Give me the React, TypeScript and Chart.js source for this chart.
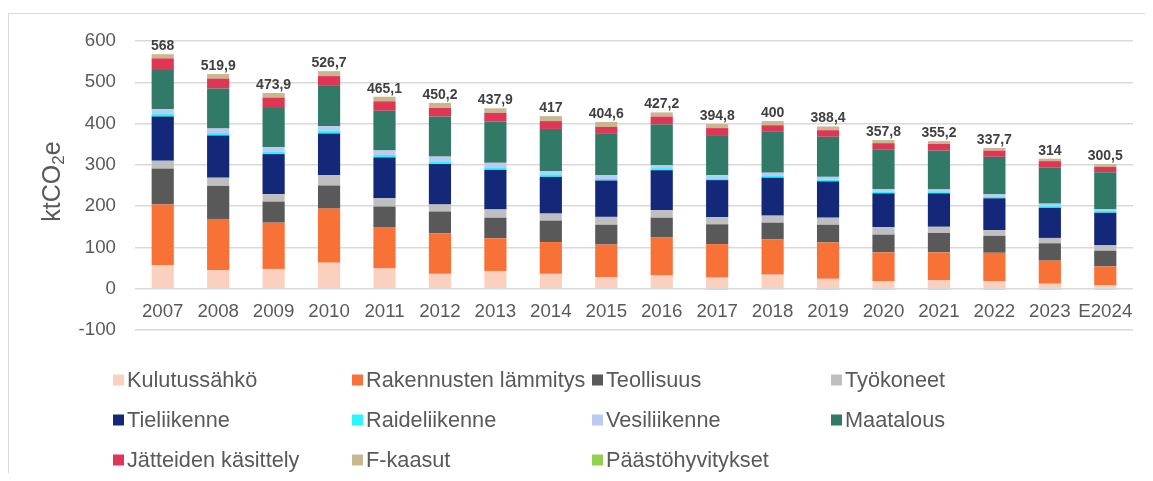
import React, { useEffect, useRef } from "react";
import { Chart, registerables } from "chart.js";

Chart.register(...registerables);

const years = ["2007","2008","2009","2010","2011","2012","2013","2014","2015","2016","2017","2018","2019","2020","2021","2022","2023","E2024"];

const kulutussahko = [57, 45, 48, 63, 49, 36, 43, 36, 28, 32, 27, 34, 24, 18, 21, 18, 12, 9];
const rakennustenLammitys = [147, 124, 112, 131, 99, 98, 79, 77, 79, 93, 81, 86, 88, 70, 67, 69, 56, 45];
const teollisuus = [87, 80, 51, 56, 51, 53, 50, 52, 48, 47, 48, 40, 43, 43, 47, 41, 42, 38];
const tyokoneet = [19, 20, 18, 25, 20, 17, 20, 17, 19, 18, 17, 17, 17, 18, 15, 14, 13, 13];
const tieliikenne = [107, 102, 97, 101, 99, 98, 96, 89, 88, 97, 90, 92, 88, 82, 81, 77, 73, 79];
const raideliikenne = [7, 6, 6, 7, 6, 5, 6, 6, 4, 5, 4, 4, 4, 4, 3, 4, 4, 5];
const vesiliikenne = [11, 11, 11, 11, 11, 13, 11, 8, 9, 7, 8, 8, 7, 6.5, 6.5, 5.5, 6, 3];
const maatalous = [97, 97, 97, 99, 96, 97, 100, 102, 100, 99, 97, 99, 97, 95, 94, 91, 88, 90];
const jatteidenKasittely = [26, 24, 23, 22, 23, 21, 21, 19, 17, 19, 17, 16, 16, 16, 16, 15, 15, 13];
const fKaasut = [10, 11, 11, 12, 11, 12, 11, 12, 12, 10, 10, 10, 9, 7.5, 7, 6.5, 6, 6.5];
const paastohyvitykset = [0, 0, 0, 0, 0, 0, 0, 0, 0, 0, -1, -2, -1, -1, -1, -1, -1, -1];

const totals = [568, 519.9, 473.9, 526.7, 465.1, 450.2, 437.9, 417, 404.6, 427.2, 394.8, 400, 388.4, 357.8, 355.2, 337.7, 314, 300.5];

const yTicks = [-100, 0, 100, 200, 300, 400, 500, 600];

const FONT = "'Liberation Sans', Arial, sans-serif";
const TEXT = "#595959";

const series = [
  { label: "Kulutussähkö", data: kulutussahko, color: "#FCD0BF" },
  { label: "Rakennusten lämmitys", data: rakennustenLammitys, color: "#F87136" },
  { label: "Teollisuus", data: teollisuus, color: "#595959" },
  { label: "Työkoneet", data: tyokoneet, color: "#BFBFBF" },
  { label: "Tieliikenne", data: tieliikenne, color: "#132878" },
  { label: "Raideliikenne", data: raideliikenne, color: "#2CF4FB" },
  { label: "Vesiliikenne", data: vesiliikenne, color: "#BDC9F2" },
  { label: "Maatalous", data: maatalous, color: "#307A67" },
  { label: "Jätteiden käsittely", data: jatteidenKasittely, color: "#E03656" },
  { label: "F-kaasut", data: fKaasut, color: "#C8B88F" },
  { label: "Päästöhyvitykset", data: paastohyvitykset, color: "#92D050" },
];

const framePlugin = {
  id: "frame",
  beforeDraw(chart: any) {
    const ctx = chart.ctx;
    ctx.save();
    ctx.strokeStyle = "#d9d9d9";
    ctx.lineWidth = 1;
    ctx.beginPath();
    ctx.moveTo(0.5, chart.height);
    ctx.lineTo(0.5, 5.5);
    ctx.lineTo(chart.width, 5.5);
    ctx.stroke();
    ctx.restore();
  },
};

const titlePlugin = {
  id: "ytitle",
  afterDraw(chart: any) {
    const ctx = chart.ctx;
    const area = chart.chartArea;
    ctx.save();
    const cy = (area.top + area.bottom) / 2 - 4;
    ctx.translate(45, cy);
    ctx.rotate(-Math.PI / 2);
    ctx.fillStyle = TEXT;
    ctx.textBaseline = "middle";
    const big = `25px ${FONT}`;
    const small = `17px ${FONT}`;
    ctx.font = big;
    const w1 = ctx.measureText("ktCO").width;
    const w3 = ctx.measureText("e").width;
    ctx.font = small;
    const w2 = ctx.measureText("2").width;
    let x = -(w1 + w2 + w3) / 2;
    ctx.font = big;
    ctx.textAlign = "left";
    ctx.fillText("ktCO", x, 0);
    x += w1;
    ctx.font = small;
    ctx.fillText("2", x, 6);
    x += w2;
    ctx.font = big;
    ctx.fillText("e", x, 0);
    ctx.restore();
  },
};

const totalsPlugin = {
  id: "totals",
  afterDatasetsDraw(chart: any) {
    const ctx = chart.ctx;
    const yScale = chart.scales.y;
    const meta0 = chart.getDatasetMeta(0);
    ctx.save();
    ctx.font = `bold 14px ${FONT}`;
    ctx.fillStyle = "#404040";
    ctx.textAlign = "center";
    ctx.textBaseline = "alphabetic";
    totals.forEach((t, i) => {
      let sum = 0;
      chart.data.datasets.forEach((ds: any) => {
        const v = ds.data[i];
        if (v > 0) sum += v;
      });
      const x = meta0.data[i].x;
      const y = yScale.getPixelForValue(sum) - 4;
      ctx.fillText(String(t).replace(".", ","), x, y);
    });
    ctx.restore();
  },
};

const legendPlugin = {
  id: "gridLegend",
  afterDraw(chart: any) {
    const ctx = chart.ctx;
    const cols = [105, 344, 584, 823];
    const rows = [372, 412, 452];
    ctx.save();
    ctx.font = `21.7px ${FONT}`;
    ctx.textBaseline = "middle";
    ctx.textAlign = "left";
    chart.data.datasets.forEach((ds: any, i: number) => {
      const c = i % 4;
      const r = Math.floor(i / 4);
      const x = cols[c];
      const y = rows[r];
      ctx.fillStyle = ds.backgroundColor;
      ctx.fillRect(x, y - 5.5, 11, 11);
      ctx.fillStyle = TEXT;
      ctx.fillText(ds.label, x + 14, y + 1);
    });
    ctx.restore();
  },
};

export default function App() {
  const ref = useRef<HTMLCanvasElement | null>(null);

  useEffect(() => {
    if (!ref.current) return;
    const chart = new Chart(ref.current, {
      type: "bar",
      data: {
        labels: years,
        datasets: series.map((s) => ({
          label: s.label,
          data: s.data,
          backgroundColor: s.color,
          borderWidth: 0,
          categoryPercentage: 1,
          barPercentage: 0.4,
          stack: "s",
        })),
      },
      options: {
        animation: false,
        responsive: false,
        devicePixelRatio: 1,
        layout: { padding: { left: 0, top: 33, right: 12, bottom: 143 } },
        plugins: {
          legend: { display: false },
          tooltip: { enabled: false },
        },
        scales: {
          x: {
            stacked: true,
            position: { y: 0 } as any,
            grid: { display: false, drawTicks: false },
            border: { display: false },
            ticks: {
              color: TEXT,
              font: { family: FONT, size: 18.7 },
              padding: 12,
              maxRotation: 0,
              autoSkip: false,
            },
          },
          y: {
            stacked: true,
            min: -100,
            max: 600,
            afterFit: (s: any) => {
              s.width = 127;
            },
            afterBuildTicks: (s: any) => {
              s.ticks = yTicks.map((v) => ({ value: v }));
            },
            grid: { color: "#d9d9d9", lineWidth: 1.5, drawTicks: false },
            border: { display: false },
            ticks: {
              color: TEXT,
              font: { family: FONT, size: 18.7 },
              padding: 19,
            },
          },
        },
      },
      plugins: [framePlugin, totalsPlugin, titlePlugin, legendPlugin],
    });
    return () => chart.destroy();
  }, []);

  return (
    <div style={{ width: 1137, height: 465 }}>
      <canvas ref={ref} width={1137} height={465} style={{ display: "block" }} />
    </div>
  );
}
